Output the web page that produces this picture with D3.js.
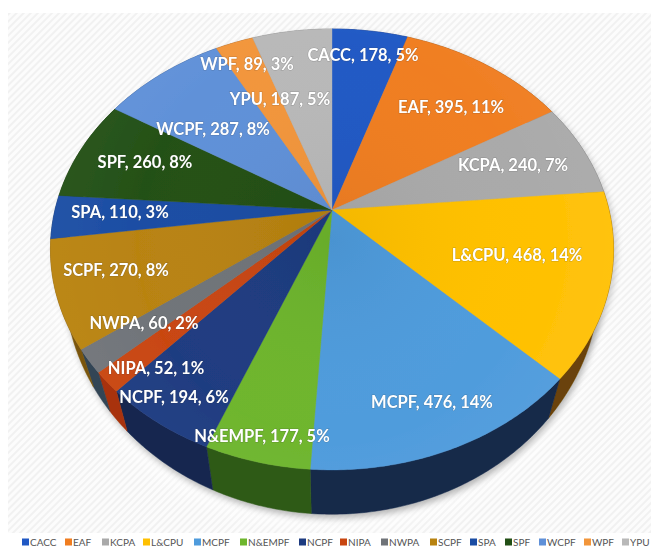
<!DOCTYPE html>
<html>
<head>
<meta charset="utf-8">
<script src="https://cdn.jsdelivr.net/npm/d3@7"></script>
<style>
  html, body { margin: 0; padding: 0; background: #fff; }
  svg { display: block; }
</style>
</head>
<body>
<script>
const categories = ['CACC', 'EAF', 'KCPA', 'L&CPU', 'MCPF', 'N&EMPF', 'NCPF', 'NIPA', 'NWPA', 'SCPF', 'SPA', 'SPF', 'WCPF', 'WPF', 'YPU'];
const values = [178, 395, 240, 468, 476, 177, 194, 52, 60, 270, 110, 260, 287, 89, 187];
const percents = [5, 11, 7, 14, 14, 5, 6, 1, 2, 8, 3, 8, 8, 3, 5];

const topColors = ['#2058c4', '#f07d20', '#a9a9a9', '#ffc000', '#4e9bdc', '#6db52c', '#1d3b80', '#c8450f', '#6f7378', '#b8820f', '#1a4ca3', '#224f15', '#5f90d8', '#f2953a', '#b8b8b8'];
const sideColors = ['#123070', '#8a4a10', '#666666', '#6b4207', '#14294a', '#2f5a18', '#14264f', '#a83208', '#334455', '#7a5508', '#10305f', '#1a3a10', '#33527f', '#8a5520', '#777777'];

// label centres and legend positions
const labelX = [363, 451, 513, 517, 432, 262, 174, 156, 144, 116, 120, 145, 213, 247, 280];
const labelY = [55, 107, 165, 255, 402, 436, 397, 368, 323, 270, 212, 162, 129, 64, 99];
const legendX = [22, 65, 102, 143, 194, 240, 299, 340, 381, 430, 470, 505, 539, 584, 622];

const width = 651;
const height = 547;
const apex = { x: 332, y: 210 };

const svg = d3.select('body')
  .append('svg')
    .attr('width', width)
    .attr('height', height);

const defs = svg.append('defs');

const hatch = defs.append('pattern')
  .attr('id', 'hatch')
  .attr('width', 5)
  .attr('height', 5)
  .attr('patternUnits', 'userSpaceOnUse')
  .attr('patternTransform', 'rotate(45)');
hatch.append('rect').attr('width', 5).attr('height', 5).attr('fill', '#fcfcfc');
hatch.append('rect').attr('width', 2).attr('height', 5).attr('fill', '#f1f1f1');

const addBlur = (id, amount) => defs.append('filter')
  .attr('id', id)
  .attr('x', '-20%').attr('y', '-20%').attr('width', '140%').attr('height', '140%')
  .append('feGaussianBlur').attr('stdDeviation', amount);
addBlur('soft', 0.6);
addBlur('textSoft', 0.3);
addBlur('glow', 14);
addBlur('shadow', 3);

const light = defs.append('radialGradient')
  .attr('id', 'light')
  .attr('gradientUnits', 'userSpaceOnUse')
  .attr('cx', apex.x).attr('cy', apex.y + 30).attr('r', 300);
light.append('stop').attr('offset', '0%').attr('stop-color', '#000').attr('stop-opacity', 0.05);
light.append('stop').attr('offset', '65%').attr('stop-color', '#fff').attr('stop-opacity', 0.01);
light.append('stop').attr('offset', '100%').attr('stop-color', '#fff').attr('stop-opacity', 0.05);

// the pie is drawn flat, then tilted with a perspective map
const tilt = -0.179;
const spreadX = 277;
const spreadY = 213.4;

const projectTop = angle => {
  const u = Math.sin(angle);
  const v = -Math.cos(angle);
  const w = 1 + tilt * v;
  return [apex.x + spreadX * u / w, apex.y + spreadY * v / w];
};

const projectBottom = angle => {
  const [x, y] = projectTop(angle);
  return [apex.x + 0.95 * (x - apex.x), y + 30 + 0.055 * (y - apex.y)];
};

const line = d3.line();

const arcPoints = (project, a0, a1) => {
  const steps = Math.max(2, Math.ceil((a1 - a0) / 0.01));
  return d3.range(steps + 1).map(i => project(a0 + (a1 - a0) * i / steps));
};

const rows = categories.map((name, i) => ({
  name, value: values[i], percent: percents[i],
  top: topColors[i], side: sideColors[i], lx: labelX[i], ly: labelY[i]
}));

const slices = d3.pie().sort(null).value(d => d.value)(rows);

// page background
svg.append('rect')
  .attr('x', 8).attr('y', 13)
  .attr('width', width - 8).attr('height', 520)
  .attr('fill', 'url(#hatch)');

const fullTop = line(arcPoints(projectTop, 0, 2 * Math.PI)) + 'Z';
const fullBottom = line(arcPoints(projectBottom, 0, 2 * Math.PI)) + 'Z';

svg.append('path')
  .attr('d', fullBottom)
  .attr('fill', '#fff')
  .attr('transform', 'translate(0,6) ')
  .attr('filter', 'url(#glow)');

svg.append('path')
  .attr('d', fullBottom)
  .attr('fill', '#888')
  .attr('opacity', 0.6)
  .attr('transform', 'translate(2,4)')
  .attr('filter', 'url(#shadow)');

svg.append('path')
  .attr('d', fullTop)
  .attr('fill', '#888')
  .attr('opacity', 0.4)
  .attr('transform', 'translate(3,3)')
  .attr('filter', 'url(#shadow)');

const pieG = svg.append('g').attr('filter', 'url(#soft)');

// side wall first, the top face goes over it
pieG.append('g').selectAll('path')
  .data(slices)
  .join('path')
    .attr('d', d => line(arcPoints(projectTop, d.startAngle, d.endAngle)
      .concat(arcPoints(projectBottom, d.startAngle, d.endAngle).reverse())) + 'Z')
    .attr('fill', d => d.data.side)
    .attr('stroke', d => d.data.side)
    .attr('stroke-width', 0.5);

pieG.append('g').selectAll('path')
  .data(slices)
  .join('path')
    .attr('d', d => line([[apex.x, apex.y]].concat(arcPoints(projectTop, d.startAngle, d.endAngle))) + 'Z')
    .attr('fill', d => d.data.top)
    .attr('stroke', d => d.data.top)
    .attr('stroke-width', 0.4);

pieG.append('path')
  .attr('d', fullTop)
  .attr('fill', 'url(#light)');

// data labels
svg.append('g')
  .attr('filter', 'url(#textSoft)')
  .selectAll('text')
  .data(rows)
  .join('text')
    .attr('x', d => d.lx)
    .attr('y', d => d.ly)
    .attr('text-anchor', 'middle')
    .attr('dy', '.35em')
    .attr('font-family', 'Lato, "Open Sans", sans-serif')
    .attr('font-weight', 700)
    .attr('font-size', 16.5)
    .attr('fill', '#fff')
    .style('paint-order', 'stroke')
    .style('stroke', 'rgba(60,60,60,0.25)')
    .style('stroke-width', '1px')
    .text(d => `${d.name}, ${d.value}, ${d.percent}%`);

// legend along the bottom edge
const legend = svg.append('g').selectAll('g')
  .data(rows)
  .join('g')
    .attr('transform', (d, i) => `translate(${legendX[i]},542)`);

legend.append('rect')
  .attr('y', -3.5)
  .attr('width', 7)
  .attr('height', 7)
  .attr('fill', d => d.top);

legend.append('text')
  .attr('x', 8)
  .attr('dy', '.35em')
  .attr('font-family', 'Lato, "Open Sans", sans-serif')
  .attr('font-size', 10)
  .attr('fill', '#555')
  .text(d => d.name);
</script>
</body>
</html>
